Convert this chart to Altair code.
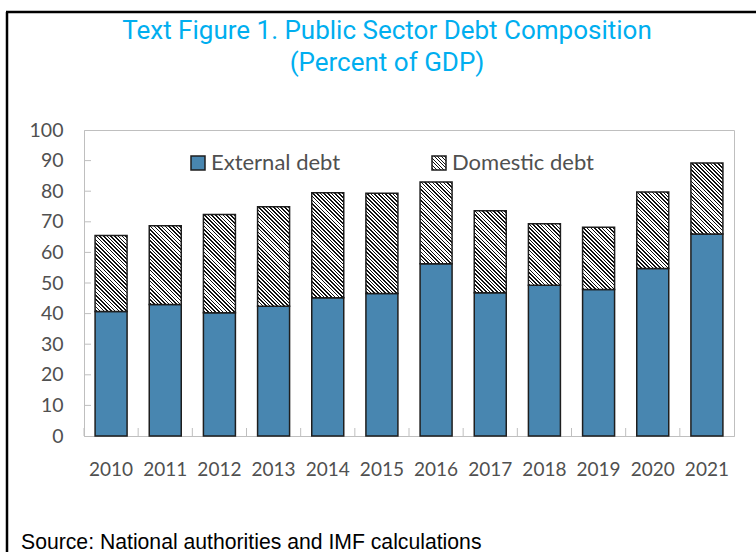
import altair as alt
import pandas as pd

# ---- data ----
years = ["2010", "2011", "2012", "2013", "2014", "2015",
         "2016", "2017", "2018", "2019", "2020", "2021"]
external_debt = [40.7, 43.0, 40.3, 42.4, 45.2, 46.6, 56.3, 46.8, 49.3, 47.9, 54.7, 66.0]
domestic_debt = [24.8, 25.7, 32.1, 32.5, 34.3, 32.7, 26.7, 26.8, 20.1, 20.3, 25.0, 23.2]
y_tick_values = [0, 10, 20, 30, 40, 50, 60, 70, 80, 90, 100]
inner_tick_values = [10, 20, 30, 40, 50, 60, 70, 80, 90]
legend_labels = ["External debt", "Domestic debt"]
title_lines = ["Text Figure 1. Public Sector Debt Composition", "(Percent of GDP)"]
source_note = "Source: National authorities and IMF calculations"

# ---- styling / layout ----
PW, PH = 650, 306          # plot area
PAD_L, PAD_T = 84, 130
BAR_W = 32
BLUE = "#4886B0"
EDGE = "#1e1e1e"
AXIS_GRAY = "#bfbfbf"
TEXT_GRAY = "#505050"
TITLE_BLUE = "#00AEEF"
AX_FONT = "Lato"


def hatch(w, h, period=3.7, frac=0.42, ink="#111111"):
    """Diagonal (top-left to bottom-right) hatch as a striped linear gradient."""
    m = (w + h) / (w * w + h * h)
    n = max(1, round((w + h) / period))
    stops = [alt.GradientStop(color="white", offset=0)]
    for i in range(n):
        a = (i + 0.5 - frac / 2) / n
        b = (i + 0.5 + frac / 2) / n
        stops += [alt.GradientStop(color="white", offset=a),
                  alt.GradientStop(color=ink, offset=a),
                  alt.GradientStop(color=ink, offset=b),
                  alt.GradientStop(color="white", offset=b)]
    stops.append(alt.GradientStop(color="white", offset=1))
    return alt.LinearGradient(gradient="linear", stops=stops,
                              x1=1, y1=0, x2=1 - m * w, y2=m * h)


df = pd.DataFrame({"year": years, "external": external_debt, "domestic": domestic_debt})
df["total"] = df["external"] + df["domestic"]
one = pd.DataFrame({"k": [0]})

xscale = alt.Scale(paddingInner=0, paddingOuter=0)
yscale = alt.Scale(domain=[0, 100], nice=False)

X_AX = alt.Axis(labelAngle=0, ticks=False, tickSize=0, domain=True, domainColor=AXIS_GRAY,
                bandPosition=0.5, labelOverlap=False, grid=False,
                labelFont=AX_FONT, labelFontSize=19, labelColor=TEXT_GRAY, labelPadding=24)
Y_AX = alt.Axis(values=y_tick_values, ticks=False, tickSize=0, grid=False,
                labelOverlap=False, labelBound=False,
                domainColor=AXIS_GRAY, labelFont=AX_FONT, labelFontSize=19.5,
                labelColor=TEXT_GRAY, labelPadding=21)

base = alt.Chart(df)

external_bars = base.mark_bar(width=BAR_W, color=BLUE, stroke=EDGE, strokeWidth=1.5).encode(
    x=alt.X("year:O", scale=xscale, title=None, axis=X_AX),
    y=alt.Y("external:Q", scale=yscale, title=None, axis=Y_AX),
)

domestic_layers = []
for yr, dom in zip(years, domestic_debt):
    h_px = dom * PH / 100.0
    domestic_layers.append(
        base.transform_filter(alt.datum.year == yr)
        .mark_bar(width=BAR_W, fill=hatch(BAR_W, h_px), stroke=EDGE, strokeWidth=1.5)
        .encode(x=alt.X("year:O", title=None, axis=X_AX),
                y=alt.Y("total:Q", title=None, axis=Y_AX), y2="external:Q")
    )

# inward ticks
ytick_df = pd.DataFrame({"v": inner_tick_values})
y_ticks = alt.Chart(ytick_df).mark_rule(color=AXIS_GRAY, strokeWidth=1).encode(
    y=alt.Y("v:Q", title=None, axis=Y_AX), x=alt.value(0), x2=alt.value(7))
x_ticks = base.mark_rule(color=AXIS_GRAY, strokeWidth=1).encode(
    x=alt.X("year:O", bandPosition=0, title=None, axis=X_AX), y=alt.value(PH), y2=alt.value(PH - 8))

# manual legend
leg_ext_box = alt.Chart(one).mark_rect(fill=BLUE, stroke=EDGE, strokeWidth=1.5).encode(
    x=alt.value(191 - PAD_L), x2=alt.value(205 - PAD_L), y=alt.value(26), y2=alt.value(40))
leg_dom_box = alt.Chart(one).mark_rect(fill=hatch(14, 14), stroke=EDGE, strokeWidth=1.5).encode(
    x=alt.value(432 - PAD_L), x2=alt.value(446 - PAD_L), y=alt.value(26), y2=alt.value(40))
leg_ext_txt = alt.Chart(one).mark_text(align="left", baseline="middle", font=AX_FONT, fontSize=22,
                                       color=TEXT_GRAY).encode(
    x=alt.value(211 - PAD_L), y=alt.value(33), text=alt.value(legend_labels[0]))
leg_dom_txt = alt.Chart(one).mark_text(align="left", baseline="middle", font=AX_FONT, fontSize=22,
                                       color=TEXT_GRAY).encode(
    x=alt.value(452 - PAD_L), y=alt.value(33), text=alt.value(legend_labels[1]))

# frame (left and top black lines)
frame_left = alt.Chart(one).mark_rule(color="black", strokeWidth=2.5).encode(
    x=alt.value(7 - PAD_L), y=alt.value(12 - PAD_T), y2=alt.value(560 - PAD_T))
frame_top = alt.Chart(one).mark_rule(color="black", strokeWidth=2.5).encode(
    x=alt.value(6 - PAD_L), x2=alt.value(760 - PAD_L), y=alt.value(12 - PAD_T))

# titles
title1 = alt.Chart(one).mark_text(align="center", baseline="alphabetic", font="Roboto", fontSize=26,
                                  color=TITLE_BLUE).encode(
    x=alt.value(387 - PAD_L), y=alt.value(39 - PAD_T), text=alt.value(title_lines[0]))
title2 = alt.Chart(one).mark_text(align="center", baseline="alphabetic", font="Roboto", fontSize=26,
                                  color=TITLE_BLUE).encode(
    x=alt.value(387 - PAD_L), y=alt.value(71 - PAD_T), text=alt.value(title_lines[1]))
source = alt.Chart(one).mark_text(align="left", baseline="alphabetic", font="Liberation Sans",
                                  fontSize=21.2, color="black").encode(
    x=alt.value(21 - PAD_L), y=alt.value(549 - PAD_T), text=alt.value(source_note))

chart = alt.layer(
    external_bars, y_ticks, x_ticks, *domestic_layers,
    leg_ext_box, leg_dom_box, leg_ext_txt, leg_dom_txt,
    frame_left, frame_top, title1, title2, source,
).properties(
    width=PW, height=PH,
    autosize=alt.AutoSizeParams(type="none"),
    padding={"left": PAD_L, "top": PAD_T, "right": 756 - PAD_L - PW, "bottom": 552 - PAD_T - PH},
    background="white",
).configure_view(stroke=AXIS_GRAY, strokeWidth=1)

chart.save("out.html", embed_options={"renderer": "svg", "actions": False})
